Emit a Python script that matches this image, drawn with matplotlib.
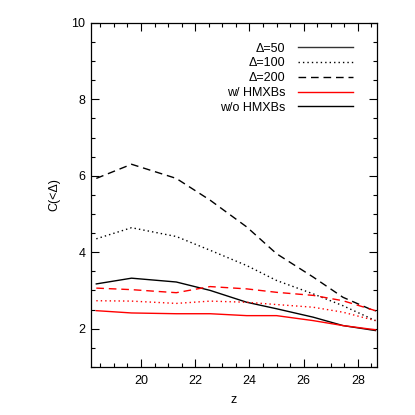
import matplotlib
matplotlib.use("Agg")
import matplotlib.pyplot as plt
from matplotlib.lines import Line2D
from matplotlib.ticker import MultipleLocator

plt.rcParams['font.family'] = ['Liberation Sans', 'DejaVu Sans']

# redshift samples
z = [18.35, 19.65, 21.3, 22.55, 23.9, 25.0, 26.35, 27.45, 28.65]

# concentration without HMXBs (black)
c50_wo = [3.17, 3.32, 3.22, 3.00, 2.69, 2.52, 2.30, 2.08, 1.95]
c100_wo = [4.35, 4.64, 4.41, 4.05, 3.65, 3.26, 2.91, 2.60, 2.21]
c200_wo = [5.93, 6.30, 5.93, 5.36, 4.66, 3.96, 3.35, 2.82, 2.45]

# concentration with HMXBs (red)
c50_w = [2.47, 2.41, 2.39, 2.39, 2.34, 2.34, 2.21, 2.08, 1.97]
c100_w = [2.73, 2.72, 2.66, 2.72, 2.69, 2.63, 2.56, 2.43, 2.21]
c200_w = [3.06, 3.02, 2.94, 3.10, 3.04, 2.95, 2.87, 2.73, 2.47]

legend_labels = ['Δ=50', 'Δ=100', 'Δ=200', 'w/ HMXBs', 'w/o HMXBs']

dotted = (0, (1, 2.2))
dashed = (0, (5.5, 3.5))

fig = plt.figure(figsize=(4.15, 4.15), dpi=100)
ax = fig.add_axes([0.219, 0.116, 0.689, 0.829])

ax.plot(z, c50_wo, color='black', lw=1.0, linestyle='-')
ax.plot(z, c100_wo, color='black', lw=1.0, linestyle=dotted)
ax.plot(z, c200_wo, color='black', lw=1.0, linestyle=dashed)
ax.plot(z, c50_w, color='red', lw=1.0, linestyle='-')
ax.plot(z, c100_w, color='red', lw=1.0, linestyle=dotted)
ax.plot(z, c200_w, color='red', lw=1.0, linestyle=dashed)

ax.set_xlim(18.15, 28.7)
ax.set_ylim(1, 10)
ax.xaxis.set_major_locator(MultipleLocator(2))
ax.xaxis.set_minor_locator(MultipleLocator(0.5))
ax.yaxis.set_major_locator(MultipleLocator(2))
ax.yaxis.set_minor_locator(MultipleLocator(0.5))
ax.tick_params(which='both', direction='in', top=True, right=True, labelsize=9)
ax.tick_params(which='major', length=6, width=0.8)
ax.tick_params(which='minor', length=3, width=0.8)
ax.tick_params(axis='x', which='major', pad=6)
ax.tick_params(axis='y', which='major', pad=4)
for s in ax.spines.values():
    s.set_linewidth(0.9)

ax.set_xlabel('z', fontsize=9, labelpad=5)
ax.set_ylabel('C(<Δ)', fontsize=9, labelpad=8)

handles = [
    Line2D([], [], color='#333333', lw=1.0, linestyle='-'),
    Line2D([], [], color='black', lw=1.0, linestyle=dotted),
    Line2D([], [], color='black', lw=1.0, linestyle=dashed),
    Line2D([], [], color='red', lw=1.0, linestyle='-'),
    Line2D([], [], color='black', lw=1.0, linestyle='-'),
]
leg = ax.legend(handles, legend_labels, loc='upper right', frameon=False,
                markerfirst=False, fontsize=9, handlelength=4.4,
                handletextpad=1.0, labelspacing=0.22,
                bbox_to_anchor=(0.955, 0.975))
for t in leg.get_texts():
    t.set_ha('right')

fig.savefig('out.png', dpi=100)
